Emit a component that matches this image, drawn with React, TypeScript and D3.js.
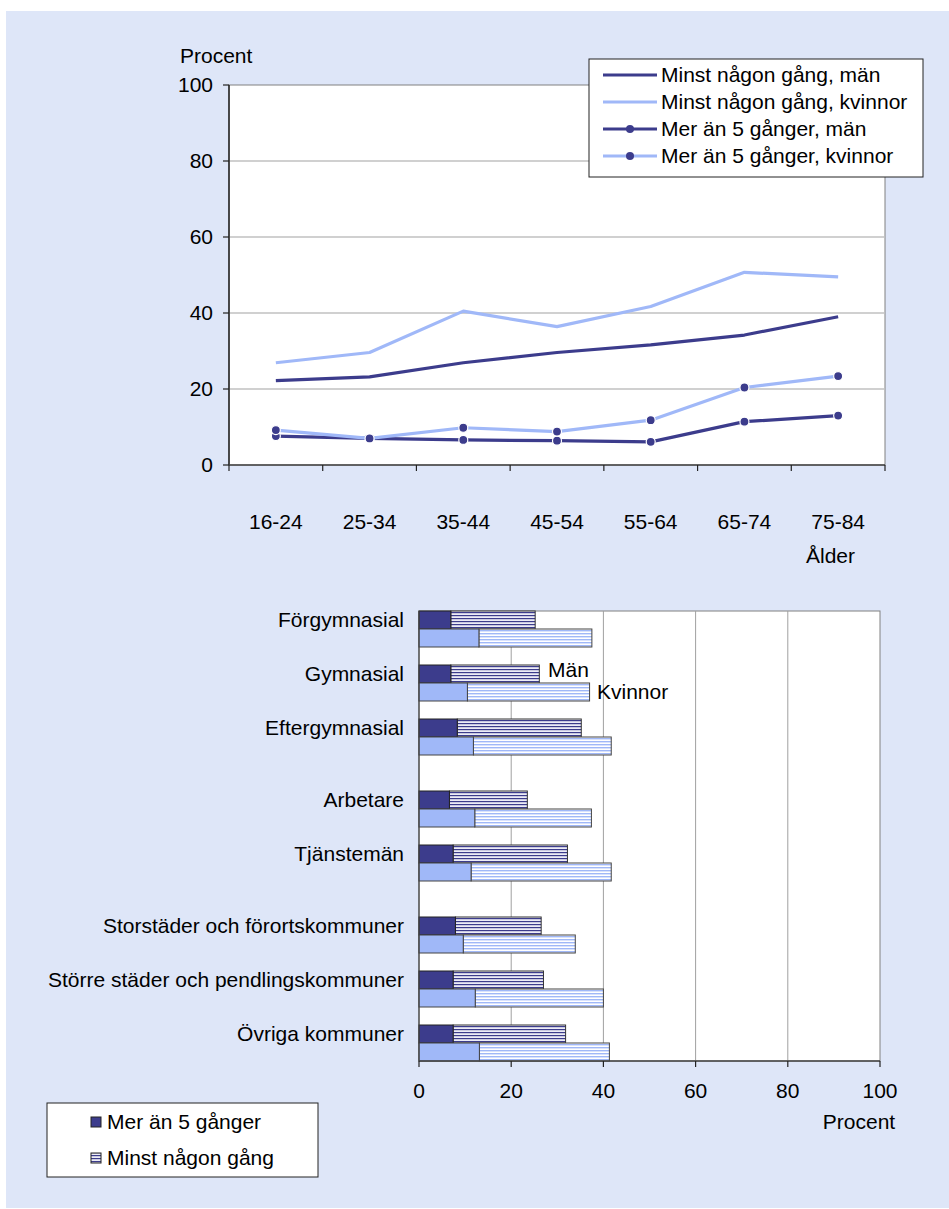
import React from 'react';
import * as d3 from 'd3';

const ageGroups = ['16-24', '25-34', '35-44', '45-54', '55-64', '65-74', '75-84'];
const minstMan = [22.2, 23.2, 26.9, 29.6, 31.6, 34.2, 39.0];
const minstKvinnor = [26.9, 29.6, 40.5, 36.4, 41.7, 50.7, 49.5];
const merMan = [7.6, 7.0, 6.6, 6.4, 6.1, 11.4, 13.0];
const merKvinnor = [9.2, 7.0, 9.8, 8.8, 11.8, 20.4, 23.4];
const lineYTicks = [0, 20, 40, 60, 80, 100];

const barCategories = [
  'Förgymnasial',
  'Gymnasial',
  'Eftergymnasial',
  'Arbetare',
  'Tjänstemän',
  'Storstäder och förortskommuner',
  'Större städer och pendlingskommuner',
  'Övriga kommuner',
];
const barGroups = [0, 0, 0, 1, 1, 2, 2, 2];
const merMen = [6.9, 6.9, 8.3, 6.6, 7.4, 7.9, 7.4, 7.4];
const minstMen = [25.2, 26.1, 35.2, 23.5, 32.2, 26.5, 27.0, 31.8];
const merWomen = [13.0, 10.5, 11.8, 12.1, 11.3, 9.6, 12.2, 13.1];
const minstWomen = [37.5, 37.0, 41.7, 37.4, 41.7, 33.9, 40.0, 41.3];
const barXTicks = [0, 20, 40, 60, 80, 100];

const NAVY = '#3c3c8c';
const LIGHT = '#a0b8f8';
const BG = '#dee6f8';
const FONT = '"Liberation Sans", Arial, sans-serif';
const FS = 21;

export default function App() {
  // line chart scales
  const lx = d3.scaleBand<string>().domain(ageGroups).range([229, 885]).padding(0);
  const ly = d3.scaleLinear().domain([0, 100]).range([465, 85]);
  const cx = (d: string) => (lx(d) as number) + lx.bandwidth() / 2;
  const line = d3
    .line<number>()
    .x((_, i) => cx(ageGroups[i]))
    .y((v) => ly(v));

  // bar chart scales
  const bx = d3.scaleLinear().domain([0, 100]).range([419, 880]);
  const units = (barCategories.length - 1) * 3 + 2 + 2; // slots + gaps
  const by = d3.scaleLinear().domain([0, units]).range([611, 1061]);
  const barH = by(1) - by(0);
  const rowTop = (i: number) => by(i * 3 + barGroups[i]);

  const lineSeries = [
    { data: minstMan, color: NAVY, dots: false, label: 'Minst någon gång, män' },
    { data: minstKvinnor, color: LIGHT, dots: false, label: 'Minst någon gång, kvinnor' },
    { data: merMan, color: NAVY, dots: true, label: 'Mer än 5 gånger, män' },
    { data: merKvinnor, color: LIGHT, dots: true, label: 'Mer än 5 gånger, kvinnor' },
  ];

  return (
    <svg
      width={949}
      height={1209}
      style={{ position: 'absolute', left: 0, top: 0 }}
      fontFamily={FONT}
      fontSize={FS}
    >
      <defs>
        <pattern id="stripeMen" patternUnits="userSpaceOnUse" width={6} height={3}>
          <rect width={6} height={3} fill="#ececf6" />
          <rect width={6} height={1.2} fill={NAVY} />
        </pattern>
        <pattern id="stripeWomen" patternUnits="userSpaceOnUse" width={6} height={3}>
          <rect width={6} height={3} fill="#ffffff" />
          <rect width={6} height={1.4} fill={LIGHT} />
        </pattern>
      </defs>
      <rect x={6} y={11} width={943} height={1197} fill={BG} />

      {/* ---------- Line chart ---------- */}
      <rect x={229} y={85} width={656} height={380} fill="#fff" stroke="#808080" strokeWidth={1} />
      {lineYTicks.slice(1, -1).map((t) => (
        <line key={t} x1={229} x2={885} y1={ly(t)} y2={ly(t)} stroke="#c0c0c0" strokeWidth={1.5} />
      ))}
      <line x1={229} x2={229} y1={85} y2={465} stroke="#222" strokeWidth={1.5} />
      <line x1={229} x2={885} y1={465} y2={465} stroke="#444" strokeWidth={1.5} />
      {lineYTicks.map((t) => (
        <g key={t}>
          <line x1={223} x2={229} y1={ly(t)} y2={ly(t)} stroke="#222" strokeWidth={1.2} />
          <text x={213} y={ly(t)} dy="0.35em" textAnchor="end">
            {t}
          </text>
        </g>
      ))}
      {[...ageGroups.map((g) => lx(g) as number), 885].map((x, i) => (
        <line key={i} x1={x} x2={x} y1={465} y2={471} stroke="#222" strokeWidth={1.2} />
      ))}
      {ageGroups.map((g) => (
        <text key={g} x={cx(g)} y={529} textAnchor="middle">
          {g}
        </text>
      ))}
      <text x={180} y={63}>Procent</text>
      <text x={806} y={563}>Ålder</text>

      {lineSeries.map((s, k) => (
        <g key={k}>
          <path d={line(s.data) || ''} fill="none" stroke={s.color} strokeWidth={3.2} strokeLinejoin="round" />
          {s.dots &&
            s.data.map((v, i) => (
              <circle key={i} cx={cx(ageGroups[i])} cy={ly(v)} r={4.5} fill={NAVY} stroke="#fff" strokeWidth={1.2} />
            ))}
        </g>
      ))}

      {/* legend */}
      <rect x={589} y={59} width={334} height={118} fill="#fff" stroke="#222" strokeWidth={1} />
      {lineSeries.map((s, k) => {
        const yy = 75 + k * 27;
        return (
          <g key={k}>
            <line x1={603} x2={657} y1={yy} y2={yy} stroke={s.color} strokeWidth={3.2} />
            {s.dots && <circle cx={630} cy={yy} r={4} fill={NAVY} />}
            <text x={661} y={yy} dy="0.35em">
              {s.label}
            </text>
          </g>
        );
      })}

      {/* ---------- Bar chart ---------- */}
      <rect x={419} y={611} width={461} height={450} fill="#fff" stroke="#808080" strokeWidth={1} />
      {barXTicks.slice(1, -1).map((t) => (
        <line key={t} x1={bx(t)} x2={bx(t)} y1={611} y2={1061} stroke="#a0a0a0" strokeWidth={1} />
      ))}
      {barCategories.map((c, i) => {
        const t = rowTop(i);
        return (
          <g key={c}>
            <rect x={bx(merMen[i])} y={t} width={bx(minstMen[i]) - bx(merMen[i])} height={barH} fill="url(#stripeMen)" stroke="#333" strokeWidth={1} />
            <rect x={bx(0)} y={t} width={bx(merMen[i]) - bx(0)} height={barH} fill={NAVY} stroke="#222" strokeWidth={1} />
            <rect x={bx(merWomen[i])} y={t + barH} width={bx(minstWomen[i]) - bx(merWomen[i])} height={barH} fill="url(#stripeWomen)" stroke="#444" strokeWidth={1} />
            <rect x={bx(0)} y={t + barH} width={bx(merWomen[i]) - bx(0)} height={barH} fill={LIGHT} stroke="#444" strokeWidth={1} />
            <text x={404} y={t + barH / 2} dy="0.35em" textAnchor="end">
              {c}
            </text>
          </g>
        );
      })}
      <line x1={419} x2={419} y1={611} y2={1061} stroke="#444" strokeWidth={1.2} />
      <line x1={419} x2={880} y1={1061} y2={1061} stroke="#444" strokeWidth={1.5} />
      {barXTicks.map((t) => (
        <g key={t}>
          <line x1={bx(t)} x2={bx(t)} y1={1061} y2={1067} stroke="#222" strokeWidth={1.2} />
          <text x={bx(t)} y={1098} textAnchor="middle">
            {t}
          </text>
        </g>
      ))}
      <text x={859} y={1129} textAnchor="middle">
        Procent
      </text>
      <text x={548} y={677}>Män</text>
      <text x={597} y={699}>Kvinnor</text>

      {/* bar legend */}
      <rect x={47} y={1103} width={271} height={74} fill="#fff" stroke="#222" strokeWidth={1} />
      <rect x={91} y={1117} width={10} height={10} fill={NAVY} stroke="#222" strokeWidth={1} />
      <text x={107} y={1122} dy="0.35em">
        Mer än 5 gånger
      </text>
      <rect x={91} y={1153} width={10} height={10} fill="url(#stripeMen)" stroke="#222" strokeWidth={1} />
      <text x={107} y={1158} dy="0.35em">
        Minst någon gång
      </text>
    </svg>
  );
}
